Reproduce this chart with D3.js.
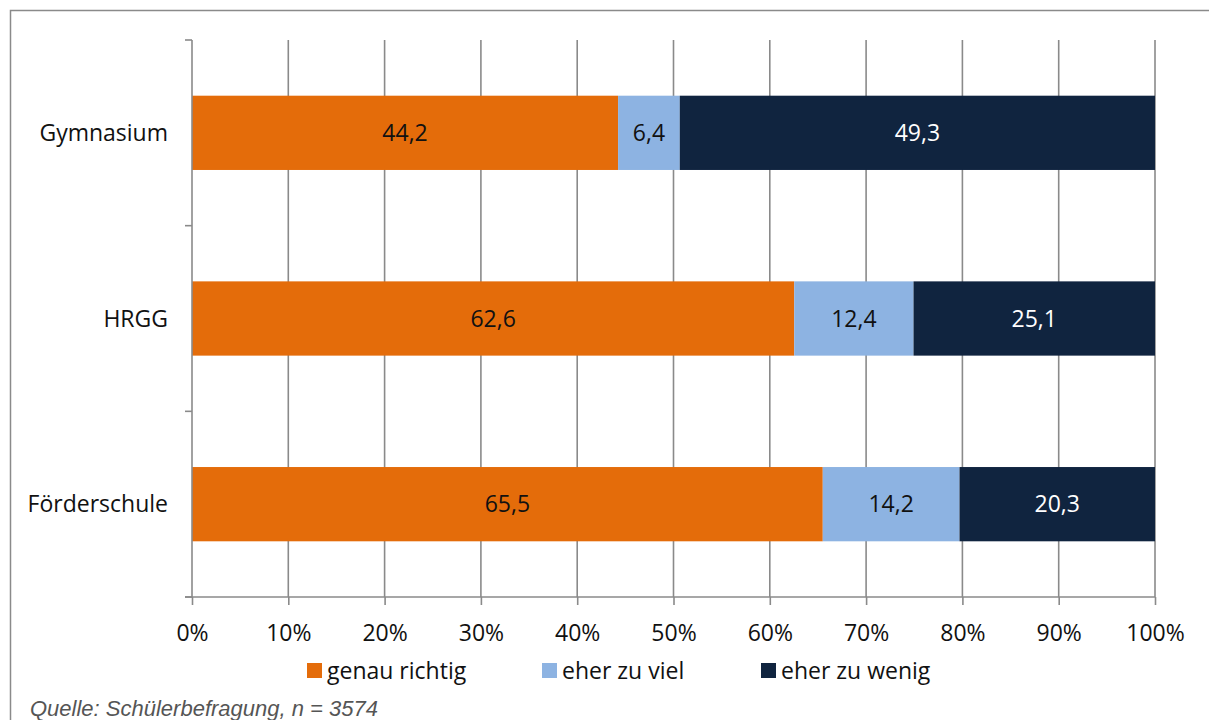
<!DOCTYPE html>
<html>
<head>
<meta charset="utf-8">
<script src="https://cdn.jsdelivr.net/npm/d3@7"></script>
<style>
body { margin:0; background:#fff; }
svg { display:block; }
.cat, .tick text, .leg, .val { font-family: "Open Sans", Lato, sans-serif; }
</style>
</head>
<body>
<svg width="1209" height="720"></svg>
<script>
// ---- data ----
var schools = ["Gymnasium", "HRGG", "Förderschule"];
var seriesNames = ["genau richtig", "eher zu viel", "eher zu wenig"];
var genauRichtig = [44.2, 62.6, 65.5];
var eherZuViel = [6.4, 12.4, 14.2];
var eherZuWenig = [49.3, 25.1, 20.3];
var xTicks = [0, 0.1, 0.2, 0.3, 0.4, 0.5, 0.6, 0.7, 0.8, 0.9, 1];
var colors = ["#E46C0A", "#8DB3E2", "#10243F"];
var textColors = ["#111", "#111", "#fff"];

var rows = schools.map(function (s, i) {
	return { school: s, "genau richtig": genauRichtig[i], "eher zu viel": eherZuViel[i], "eher zu wenig": eherZuWenig[i] };
});

var svg = d3.select("svg");
var margins = { left: 192, right: 54, top: 40, bottom: 123 };
var graph = { width: 1209 - margins.left - margins.right, height: 720 - margins.top - margins.bottom };

// outer frame
svg.append("rect")
	.attr("x", 10.5).attr("y", 10.5)
	.attr("width", 1220).attr("height", 740)
	.attr("fill", "none").attr("stroke", "#8a8a8a").attr("stroke-width", 1.5);

var xScale = d3.scaleLinear().domain([0, 1]).range([0, graph.width]);
var yScale = d3.scaleBand().domain(schools).range([0, graph.height]).paddingInner(0.6).paddingOuter(0.3);

var target = svg.append("g")
	.attr("transform", "translate(" + margins.left + "," + margins.top + ")");

// grid lines
target.append("g").selectAll("line")
	.data(xTicks.slice(1))
	.enter().append("line")
	.attr("x1", function (d) { return xScale(d); })
	.attr("x2", function (d) { return xScale(d); })
	.attr("y1", 0).attr("y2", graph.height)
	.attr("stroke", "#8a8a8a").attr("stroke-width", 1.6);

// stacked bars
var stack = d3.stack().keys(seriesNames).offset(d3.stackOffsetExpand);
var layers = stack(rows);

var layer = target.append("g").selectAll("g")
	.data(layers)
	.enter().append("g")
	.attr("fill", function (d, i) { return colors[i]; });

layer.selectAll("rect")
	.data(function (d) { return d; })
	.enter().append("rect")
	.attr("x", function (d) { return xScale(d[0]); })
	.attr("width", function (d) { return xScale(d[1]) - xScale(d[0]); })
	.attr("y", function (d) { return yScale(d.data.school); })
	.attr("height", yScale.bandwidth());

layers.forEach(function (l, i) {
	target.append("g").selectAll("text")
		.data(l)
		.enter().append("text")
		.classed("val", true)
		.attr("x", function (d) { return xScale((d[0] + d[1]) / 2); })
		.attr("y", function (d) { return yScale(d.data.school) + yScale.bandwidth() / 2; })
		.attr("dy", "0.36em")
		.attr("text-anchor", "middle")
		.attr("fill", textColors[i])
		.style("font-size", "23px")
		.text(function (d) { return String(d.data[l.key]).replace(".", ","); });
});

// axes
var xAxis = d3.axisBottom(xScale).tickValues(xTicks).tickSize(8).tickSizeOuter(0)
	.tickFormat(function (d) { return Math.round(d * 100) + "%"; });
var gx = svg.append("g")
	.attr("transform", "translate(" + margins.left + "," + (margins.top + graph.height) + ")")
	.call(xAxis);
gx.select(".domain").remove();
gx.append("line").attr("x1", -7).attr("x2", graph.width).attr("stroke", "#8a8a8a").attr("stroke-width", 1.6);
gx.selectAll(".tick line").attr("stroke", "#8a8a8a").attr("stroke-width", 1.6);
gx.selectAll(".tick text").attr("y", 28).attr("fill", "#111").style("font-size", "23px");

// y axis line with ticks at band borders
var gy = svg.append("g")
	.attr("transform", "translate(" + margins.left + "," + margins.top + ")");
gy.append("line").attr("y1", 0).attr("y2", graph.height).attr("stroke", "#8a8a8a").attr("stroke-width", 1.6);
var step = graph.height / schools.length;
gy.selectAll(".yt")
	.data(d3.range(schools.length + 1))
	.enter().append("line")
	.attr("x1", -7).attr("x2", 0)
	.attr("y1", function (d) { return d * step; })
	.attr("y2", function (d) { return d * step; })
	.attr("stroke", "#8a8a8a").attr("stroke-width", 1.6);
gy.selectAll(".cat")
	.data(schools)
	.enter().append("text")
	.classed("cat", true)
	.attr("x", -24)
	.attr("y", function (d) { return yScale(d) + yScale.bandwidth() / 2; })
	.attr("dy", "0.36em")
	.attr("text-anchor", "end")
	.attr("fill", "#111")
	.style("font-size", "23px")
	.text(function (d) { return d; });

// legend
var legendX = [307, 542, 761];
var legend = svg.append("g").selectAll("g")
	.data(seriesNames)
	.enter().append("g")
	.attr("transform", function (d, i) { return "translate(" + legendX[i] + ",663)"; });
legend.append("rect").attr("width", 15).attr("height", 15)
	.attr("fill", function (d, i) { return colors[i]; });
legend.append("text").classed("leg", true)
	.attr("x", 20).attr("y", 7.5).attr("dy", "0.36em")
	.attr("fill", "#111").style("font-size", "23px")
	.text(function (d) { return d; });

// source
svg.append("text")
	.attr("x", 30).attr("y", 716)
	.attr("fill", "#555")
	.style("font-family", "'Liberation Sans', Arial, sans-serif")
	.style("font-style", "italic").style("font-size", "22px")
	.text("Quelle: Schülerbefragung, n = 3574");
</script>
</body>
</html>
